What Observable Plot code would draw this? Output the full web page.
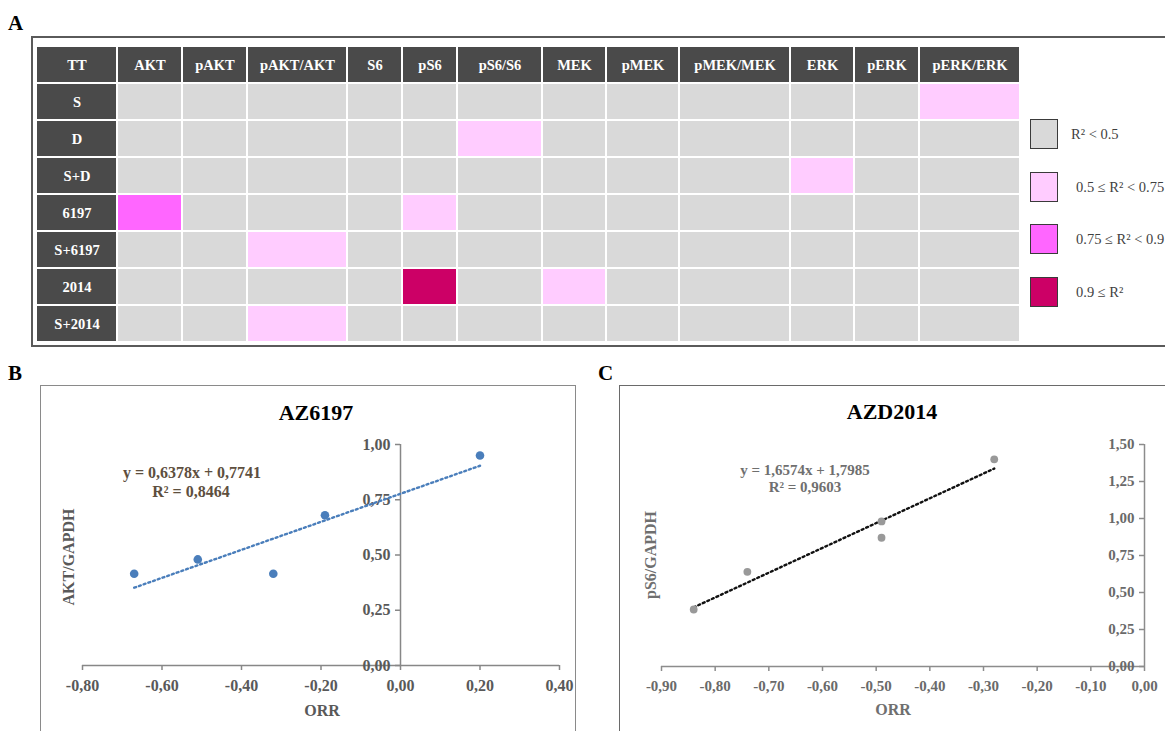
<!DOCTYPE html>
<html><head><meta charset="utf-8">
<script src="https://cdn.jsdelivr.net/npm/d3@7"></script>
<script src="https://cdn.jsdelivr.net/npm/@observablehq/plot@0.6"></script>
<style>
html,body{margin:0;padding:0;background:#fff;overflow:hidden;}
#root{position:relative;width:1165px;height:731px;overflow:hidden;font-family:"Liberation Serif","Times New Roman",serif;}
.abs{position:absolute;}
.c{position:absolute;transform:translate(-50%,-50%);white-space:nowrap;}
.panel{position:absolute;font-weight:bold;font-size:21px;color:#000;line-height:1;}
.box{position:absolute;box-sizing:border-box;}
</style></head><body><div id="root"></div>
<script>
// ---------- DATA ----------
const markers = ["AKT","pAKT","pAKT/AKT","S6","pS6","pS6/S6","MEK","pMEK","pMEK/MEK","ERK","pERK","pERK/ERK"];
const treatments = ["S","D","S+D","6197","S+6197","2014","S+2014"];
const r2Classes = ["R² < 0.5","0.5 ≤ R² < 0.75","0.75 ≤ R² < 0.9","0.9 ≤ R²"];
const r2Colors = ["#d9d9d9","#ffccff","#ff66ff","#cc0066"];
// class index per treatment (rows) x marker (columns)
const classMatrix = [
  [0,0,0,0,0,0,0,0,0,0,0,1],
  [0,0,0,0,0,1,0,0,0,0,0,0],
  [0,0,0,0,0,0,0,0,0,1,0,0],
  [2,0,0,0,1,0,0,0,0,0,0,0],
  [0,0,1,0,0,0,0,0,0,0,0,0],
  [0,0,0,0,3,0,1,0,0,0,0,0],
  [0,0,1,0,0,0,0,0,0,0,0,0]
];
// Panel B : AZ6197
const orrB = [-0.67, -0.51, -0.32, -0.19, 0.20];
const aktGapdhB = [0.415, 0.48, 0.415, 0.68, 0.95];
const xTicksB = [-0.8,-0.6,-0.4,-0.2,0,0.2,0.4];
const yTicksB = [0,0.25,0.5,0.75,1];
const eqB = ["y = 0,6378x + 0,7741","R² = 0,8464"];
// Panel C : AZD2014
const orrC = [-0.84, -0.74, -0.49, -0.49, -0.28];
const ps6GapdhC = [0.385, 0.64, 0.98, 0.87, 1.40];
const xTicksC = [-0.9,-0.8,-0.7,-0.6,-0.5,-0.4,-0.3,-0.2,-0.1,0];
const yTicksC = [0,0.25,0.5,0.75,1,1.25,1.5];
const eqC = ["y = 1,6574x + 1,7985","R² = 0,9603"];

// ---------- LAYOUT ----------
const colWidths = [81,65,65,100,55,55,85,64,73,111,64,65,101];
const root = document.getElementById("root");
const FONT = '"Liberation Serif","Times New Roman",serif';
const fmt = d3.formatLocale({decimal:",",thousands:".",grouping:[3],currency:["",""],minus:"-"}).format(".2f");

function add(el){root.appendChild(el);return el;}
function div(cls, css, text){const d=document.createElement("div");d.className=cls;Object.assign(d.style,css);if(text!=null)d.textContent=text;return add(d);}
function center(text, cx, cy, css){return div("c", Object.assign({left:cx+"px",top:cy+"px"}, css), text);}
function placeSvg(svg, left, top){svg.style.position="absolute";svg.style.left=left+"px";svg.style.top=top+"px";add(svg);}

// ---------- PANEL A ----------
div("panel",{left:"8px",top:"13px"},"A");
div("box",{left:"31px",top:"36px",width:"1200px",height:"311px",border:"2px solid #5a5a5a"});

const starts=[0]; colWidths.forEach(w=>starts.push(starts[starts.length-1]+w));
const headCells = ["TT",...markers].map((c,j)=>({row:"header",j,label:c}))
  .concat(treatments.map(t=>({row:t,j:0,label:t})));
const bodyCells = treatments.flatMap((t,i)=>markers.map((m,k)=>({row:t,j:k+1,cls:r2Classes[classMatrix[i][k]]})));

const table = Plot.plot({
  width: starts[starts.length-1], height: 296, margin: 0,
  x:{domain:[0,starts[starts.length-1]],axis:null},
  y:{type:"band",domain:["header",...treatments],padding:0,axis:null},
  color:{domain:r2Classes,range:r2Colors},
  style:{fontFamily:FONT,background:"none",overflow:"visible"},
  marks:[
    Plot.barX(bodyCells,{x1:d=>starts[d.j],x2:d=>starts[d.j+1],y:"row",fill:"cls",insetRight:2,insetBottom:2}),
    Plot.barX(headCells,{x1:d=>starts[d.j],x2:d=>starts[d.j+1],y:"row",fill:"#4a4a4a",insetRight:2,insetBottom:2}),
    Plot.text(headCells,{x:d=>(starts[d.j]+starts[d.j+1])/2,y:"row",text:"label",fill:"#ffffff",fontWeight:"bold",fontSize:14.5,dx:-1,dy:-1})
  ]
});
placeSvg(table,37,47);

// legend
r2Classes.forEach((lab,i)=>{
  const top = 119 + i*52.7;
  div("abs",{left:"1030px",top:top+"px",width:"28px",height:"30px",boxSizing:"border-box",background:r2Colors[i],border:"1.5px solid #3a3a3a"});
  div("abs",{left:(i===0?1071:1076)+"px",top:(top+15)+"px",transform:"translateY(-50%)",fontSize:"14.5px",color:"#3f3f3f",whiteSpace:"nowrap"},lab);
});

// ---------- SCATTER ----------
function scatter(o){
  const pts=o.xs.map((x,i)=>({x,y:o.ys[i]}));
  return Plot.plot({
    width:o.width,height:o.height,marginTop:o.mt,marginBottom:o.mb,marginLeft:o.ml,marginRight:o.mr,
    axis:null,
    x:{domain:o.xDomain},y:{domain:o.yDomain},
    style:{fontFamily:FONT,background:"none",overflow:"visible"},
    marks:[
      Plot.ruleY([0],{stroke:o.axis,strokeWidth:1.5}),
      Plot.ruleX([0],{y1:o.yDomain[0],y2:o.yDomain[1],stroke:o.axis,strokeWidth:1.5}),
      Plot.ruleX(o.xTicks,{x:d=>d,y1:0,y2:0,insetBottom:-5,stroke:o.axis,strokeWidth:1.5}),
      Plot.ruleY(o.yTicks,{y:d=>d,x1:0,x2:0,insetLeft:-5,stroke:o.axis,strokeWidth:1.5}),
      Plot.text(o.xTicks,{x:d=>d,y:0,dy:20,text:d=>fmt(d),fill:o.tickColor,fontSize:o.tickSize,fontWeight:"bold"}),
      Plot.text(o.yTicks,{x:0,y:d=>d,dx:-10,textAnchor:"end",text:d=>fmt(d),fill:o.tickColor,fontSize:o.tickSize,fontWeight:"bold"}),
      Plot.linearRegressionY(pts,{x:"x",y:"y",stroke:o.line,strokeWidth:2.4,strokeDasharray:"2 3",ci:0}),
      Plot.dot(pts,{x:"x",y:"y",r:o.r,fill:o.dot})
    ]
  });
}

// ---------- PANEL B ----------
div("panel",{left:"8px",top:"363px"},"B");
div("box",{left:"40px",top:"385px",width:"536px",height:"400px",border:"1.5px solid #8a8a8a"});
placeSvg(scatter({xs:orrB,ys:aktGapdhB,xDomain:[-0.8,0.4],yDomain:[0,1],xTicks:xTicksB,yTicks:yTicksB,
  width:535,height:346,mt:59,mb:66,ml:42,mr:16,axis:"#878787",tickColor:"#595959",tickSize:16,
  line:"#4a7ebb",dot:"#4a7ebb",r:4.3}),40,385);
center("AZ6197",316,413,{fontSize:"22px",fontWeight:"bold",color:"#000"});
center(eqB[0],192,473,{fontSize:"16px",fontWeight:"bold",color:"#5e4f3e"});
center(eqB[1],191,492,{fontSize:"16px",fontWeight:"bold",color:"#5e4f3e"});
center("ORR",322,711,{fontSize:"16px",fontWeight:"bold",color:"#595959"});
center("AKT/GAPDH",69,557,{fontSize:"16px",fontWeight:"bold",color:"#595959",transform:"translate(-50%,-50%) rotate(-90deg)"});

// ---------- PANEL C ----------
div("panel",{left:"598px",top:"363px"},"C");
div("box",{left:"619px",top:"385px",width:"600px",height:"400px",border:"1.5px solid #6a6a6a"});
placeSvg(scatter({xs:orrC,ys:ps6GapdhC,xDomain:[-0.9,0],yDomain:[0,1.5],xTicks:xTicksC,yTicks:yTicksC,
  width:546,height:346,mt:59,mb:65,ml:42,mr:21,axis:"#8c8c8c",tickColor:"#6a6a6a",tickSize:15,
  line:"#111111",dot:"#999999",r:3.9}),619,385);
center("AZD2014",892,412,{fontSize:"22px",fontWeight:"bold",color:"#000"});
center(eqC[0],805,470,{fontSize:"15px",fontWeight:"bold",color:"#6f6f6f"});
center(eqC[1],805,487,{fontSize:"15px",fontWeight:"bold",color:"#6f6f6f"});
center("ORR",893,710,{fontSize:"16px",fontWeight:"bold",color:"#6f6f6f"});
center("pS6/GAPDH",651,555,{fontSize:"16px",fontWeight:"bold",color:"#6f6f6f",transform:"translate(-50%,-50%) rotate(-90deg)"});
</script></body></html>
